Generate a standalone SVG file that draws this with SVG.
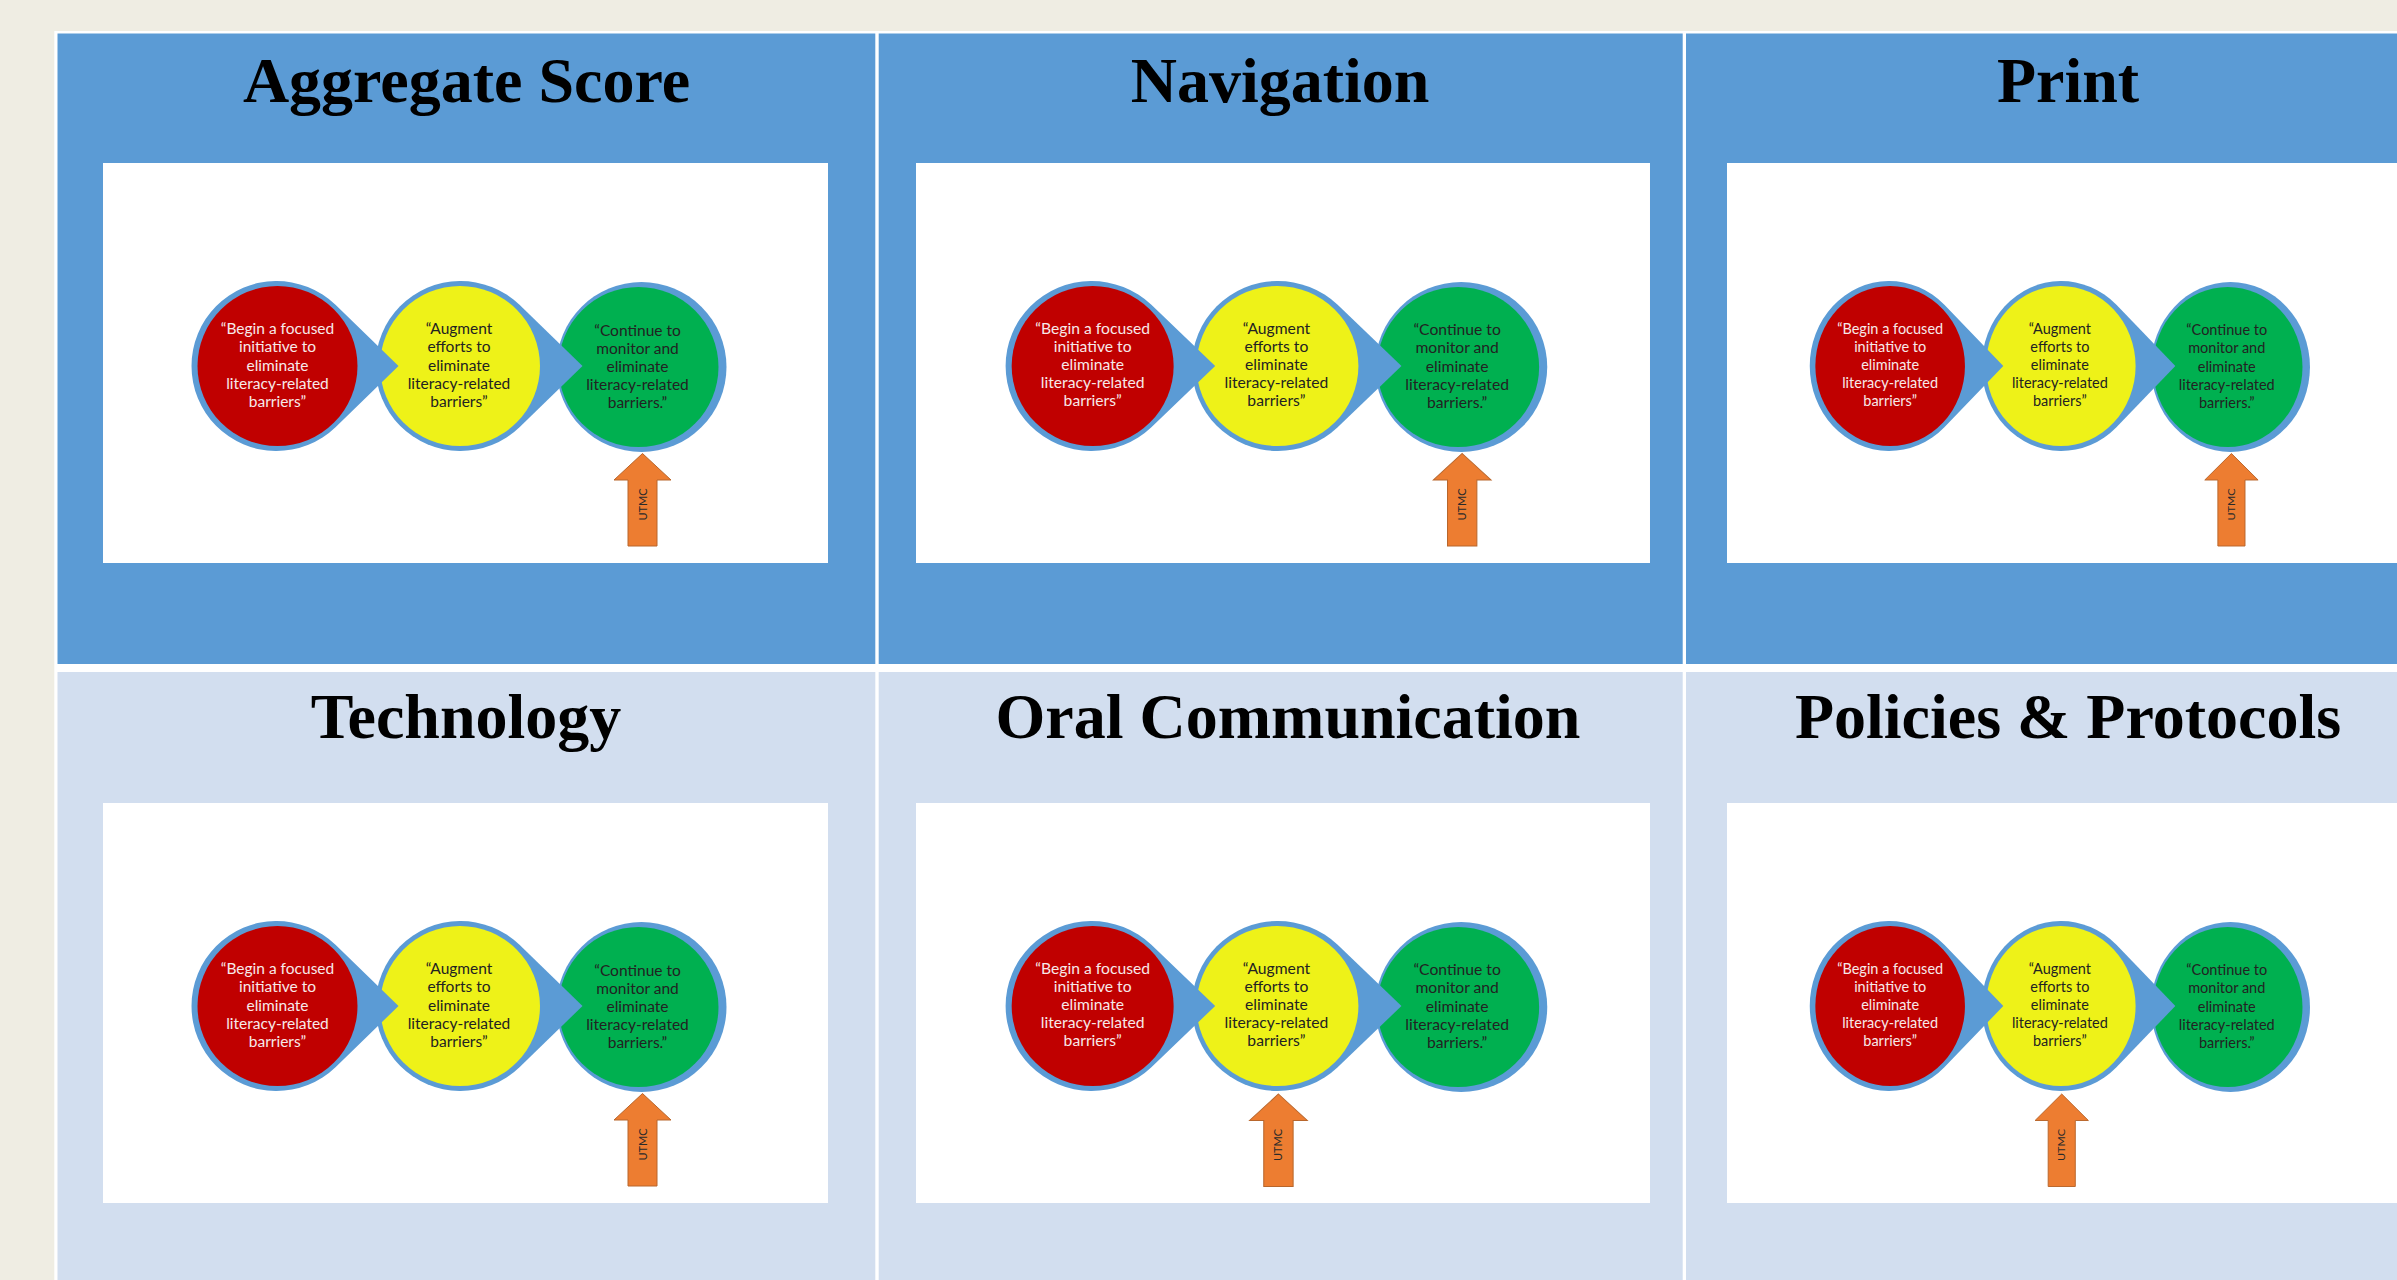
<svg xmlns="http://www.w3.org/2000/svg" xmlns:xlink="http://www.w3.org/1999/xlink" width="2397" height="1280" viewBox="0 0 2397 1280">
  <style>
    .page{fill:#EFEDE3}
    .frame{fill:#FFFFFF}
    .cell-dark{fill:#5B9BD5}
    .cell-light{fill:#D2DEEF}
    .pic{fill:#FFFFFF}
    .title{font-family:"Liberation Serif","Times New Roman",serif;font-weight:bold;font-size:64px;fill:#000000;text-anchor:middle}
    .ring{fill:#5B9BD5}
    .red{fill:#C00000}
    .yellow{fill:#EEF218}
    .green{fill:#00B050}
    .lbl{font-family:Lato,"Liberation Sans",sans-serif;font-size:15.5px;text-anchor:middle}
    .lbl-red{fill:#F7E9E9}
    .lbl-dark{fill:#222222}
    .utmc-arrow{fill:#ED7D31;stroke:#B8662C;stroke-width:1}
    .utmc{font-family:Lato,"Liberation Sans",sans-serif;font-size:11px;fill:#2A2A2A;text-anchor:middle}
  </style>
  <defs>
    <!-- three stage bubbles, drawn right to left so each pointer overlaps the next circle -->
    <g id="stage-shapes">
      <circle class="ring" cx="538.5" cy="204" r="85"/>
      <circle class="green" cx="535.5" cy="204" r="80"/>
      <path class="ring" d="M479.5,203 L416.5,141.8 A85,85 0 1 0 416.5,264.2 Z"/>
      <circle class="yellow" cx="357" cy="203" r="80"/>
      <path class="ring" d="M295.5,203 L232.5,141.8 A85,85 0 1 0 232.5,264.2 Z"/>
      <circle class="red" cx="174.5" cy="203" r="80"/>
    </g>
    <!-- upward block arrow, tip at the origin -->
    <path id="utmc-shape" class="utmc-arrow" d="M0,0 L28.5,26.5 L14.5,26.5 L14.5,92.5 L-14.5,92.5 L-14.5,26.5 L-28.5,26.5 Z"/>
  </defs>

  <!-- page and table frame -->
  <rect class="page" x="0" y="0" width="2397" height="1280"/>
  <rect class="frame" x="54.3" y="31" width="2343" height="1249"/>

  <!-- Row 1 -->
  <g id="panel-aggregate-score">
    <rect class="cell-dark" x="57.5" y="33.5" width="817.8" height="630.5"/>
    <text class="title" x="466.5" y="102">Aggregate Score</text>
    <g transform="translate(103,163)">
      <rect class="pic" x="0" y="0" width="725" height="400"/>
      <use xlink:href="#stage-shapes"/>
      <g class="lbl lbl-red">
        <text x="174.5" y="171">“Begin a focused</text>
        <text x="174.5" y="189">initiative to</text>
        <text x="174.5" y="207.5">eliminate</text>
        <text x="174.5" y="225.5">literacy-related</text>
        <text x="174.5" y="243.5">barriers”</text>
      </g>
      <g class="lbl lbl-dark">
        <text x="356" y="171">“Augment</text>
        <text x="356" y="189">efforts to</text>
        <text x="356" y="207.5">eliminate</text>
        <text x="356" y="225.5">literacy-related</text>
        <text x="356" y="243.5">barriers”</text>
        <text x="534.5" y="172.5">“Continue to</text>
        <text x="534.5" y="190.5">monitor and</text>
        <text x="534.5" y="209">eliminate</text>
        <text x="534.5" y="227">literacy-related</text>
        <text x="534.5" y="245">barriers.”</text>
      </g>
      <use xlink:href="#utmc-shape" x="539.5" y="290.5"/>
      <text class="utmc" transform="translate(539.5,341.5) rotate(-90)" y="4">UTMC</text>
    </g>
  </g>

  <g id="panel-navigation">
    <rect class="cell-dark" x="878.7" y="33.5" width="804" height="630.5"/>
    <text class="title" x="1280" y="102">Navigation</text>
    <g transform="translate(916,163) scale(1.0124,1)">
      <rect class="pic" x="0" y="0" width="725" height="400"/>
      <use xlink:href="#stage-shapes"/>
      <g class="lbl lbl-red">
        <text x="174.5" y="171">“Begin a focused</text>
        <text x="174.5" y="189">initiative to</text>
        <text x="174.5" y="207.5">eliminate</text>
        <text x="174.5" y="225.5">literacy-related</text>
        <text x="174.5" y="243.5">barriers”</text>
      </g>
      <g class="lbl lbl-dark">
        <text x="356" y="171">“Augment</text>
        <text x="356" y="189">efforts to</text>
        <text x="356" y="207.5">eliminate</text>
        <text x="356" y="225.5">literacy-related</text>
        <text x="356" y="243.5">barriers”</text>
        <text x="534.5" y="172.5">“Continue to</text>
        <text x="534.5" y="190.5">monitor and</text>
        <text x="534.5" y="209">eliminate</text>
        <text x="534.5" y="227">literacy-related</text>
        <text x="534.5" y="245">barriers.”</text>
      </g>
      <use xlink:href="#utmc-shape" x="539.5" y="290.5"/>
      <text class="utmc" transform="translate(539.5,341.5) rotate(-90)" y="4">UTMC</text>
    </g>
  </g>

  <g id="panel-print">
    <rect class="cell-dark" x="1686" y="33.5" width="711" height="630.5"/>
    <text class="title" x="2068" y="102">Print</text>
    <g transform="translate(1727,163) scale(0.935,1)">
      <rect class="pic" x="0" y="0" width="725" height="400"/>
      <use xlink:href="#stage-shapes"/>
      <g class="lbl lbl-red">
        <text x="174.5" y="171">“Begin a focused</text>
        <text x="174.5" y="189">initiative to</text>
        <text x="174.5" y="207.5">eliminate</text>
        <text x="174.5" y="225.5">literacy-related</text>
        <text x="174.5" y="243.5">barriers”</text>
      </g>
      <g class="lbl lbl-dark">
        <text x="356" y="171">“Augment</text>
        <text x="356" y="189">efforts to</text>
        <text x="356" y="207.5">eliminate</text>
        <text x="356" y="225.5">literacy-related</text>
        <text x="356" y="243.5">barriers”</text>
        <text x="534.5" y="172.5">“Continue to</text>
        <text x="534.5" y="190.5">monitor and</text>
        <text x="534.5" y="209">eliminate</text>
        <text x="534.5" y="227">literacy-related</text>
        <text x="534.5" y="245">barriers.”</text>
      </g>
      <use xlink:href="#utmc-shape" x="539.5" y="290.5"/>
      <text class="utmc" transform="translate(539.5,341.5) rotate(-90)" y="4">UTMC</text>
    </g>
  </g>

  <!-- Row 2 -->
  <g id="panel-technology">
    <rect class="cell-light" x="57.5" y="672" width="817.8" height="608"/>
    <text class="title" x="466" y="738">Technology</text>
    <g transform="translate(103,803)">
      <rect class="pic" x="0" y="0" width="725" height="400"/>
      <use xlink:href="#stage-shapes"/>
      <g class="lbl lbl-red">
        <text x="174.5" y="171">“Begin a focused</text>
        <text x="174.5" y="189">initiative to</text>
        <text x="174.5" y="207.5">eliminate</text>
        <text x="174.5" y="225.5">literacy-related</text>
        <text x="174.5" y="243.5">barriers”</text>
      </g>
      <g class="lbl lbl-dark">
        <text x="356" y="171">“Augment</text>
        <text x="356" y="189">efforts to</text>
        <text x="356" y="207.5">eliminate</text>
        <text x="356" y="225.5">literacy-related</text>
        <text x="356" y="243.5">barriers”</text>
        <text x="534.5" y="172.5">“Continue to</text>
        <text x="534.5" y="190.5">monitor and</text>
        <text x="534.5" y="209">eliminate</text>
        <text x="534.5" y="227">literacy-related</text>
        <text x="534.5" y="245">barriers.”</text>
      </g>
      <use xlink:href="#utmc-shape" x="539.5" y="290.5"/>
      <text class="utmc" transform="translate(539.5,341.5) rotate(-90)" y="4">UTMC</text>
    </g>
  </g>

  <g id="panel-oral-communication">
    <rect class="cell-light" x="878.7" y="672" width="804" height="608"/>
    <text class="title" x="1288" y="738">Oral Communication</text>
    <g transform="translate(916,803) scale(1.0124,1)">
      <rect class="pic" x="0" y="0" width="725" height="400"/>
      <use xlink:href="#stage-shapes"/>
      <g class="lbl lbl-red">
        <text x="174.5" y="171">“Begin a focused</text>
        <text x="174.5" y="189">initiative to</text>
        <text x="174.5" y="207.5">eliminate</text>
        <text x="174.5" y="225.5">literacy-related</text>
        <text x="174.5" y="243.5">barriers”</text>
      </g>
      <g class="lbl lbl-dark">
        <text x="356" y="171">“Augment</text>
        <text x="356" y="189">efforts to</text>
        <text x="356" y="207.5">eliminate</text>
        <text x="356" y="225.5">literacy-related</text>
        <text x="356" y="243.5">barriers”</text>
        <text x="534.5" y="172.5">“Continue to</text>
        <text x="534.5" y="190.5">monitor and</text>
        <text x="534.5" y="209">eliminate</text>
        <text x="534.5" y="227">literacy-related</text>
        <text x="534.5" y="245">barriers.”</text>
      </g>
      <use xlink:href="#utmc-shape" x="358" y="291"/>
      <text class="utmc" transform="translate(358,342) rotate(-90)" y="4">UTMC</text>
    </g>
  </g>

  <g id="panel-policies-protocols">
    <rect class="cell-light" x="1686" y="672" width="711" height="608"/>
    <text class="title" x="2068" y="738">Policies &amp; Protocols</text>
    <g transform="translate(1727,803) scale(0.935,1)">
      <rect class="pic" x="0" y="0" width="725" height="400"/>
      <use xlink:href="#stage-shapes"/>
      <g class="lbl lbl-red">
        <text x="174.5" y="171">“Begin a focused</text>
        <text x="174.5" y="189">initiative to</text>
        <text x="174.5" y="207.5">eliminate</text>
        <text x="174.5" y="225.5">literacy-related</text>
        <text x="174.5" y="243.5">barriers”</text>
      </g>
      <g class="lbl lbl-dark">
        <text x="356" y="171">“Augment</text>
        <text x="356" y="189">efforts to</text>
        <text x="356" y="207.5">eliminate</text>
        <text x="356" y="225.5">literacy-related</text>
        <text x="356" y="243.5">barriers”</text>
        <text x="534.5" y="172.5">“Continue to</text>
        <text x="534.5" y="190.5">monitor and</text>
        <text x="534.5" y="209">eliminate</text>
        <text x="534.5" y="227">literacy-related</text>
        <text x="534.5" y="245">barriers.”</text>
      </g>
      <use xlink:href="#utmc-shape" x="358" y="291"/>
      <text class="utmc" transform="translate(358,342) rotate(-90)" y="4">UTMC</text>
    </g>
  </g>

  <!-- connectors: none beyond the drawn block arrows -->
  <g id="connectors"/>
</svg>
